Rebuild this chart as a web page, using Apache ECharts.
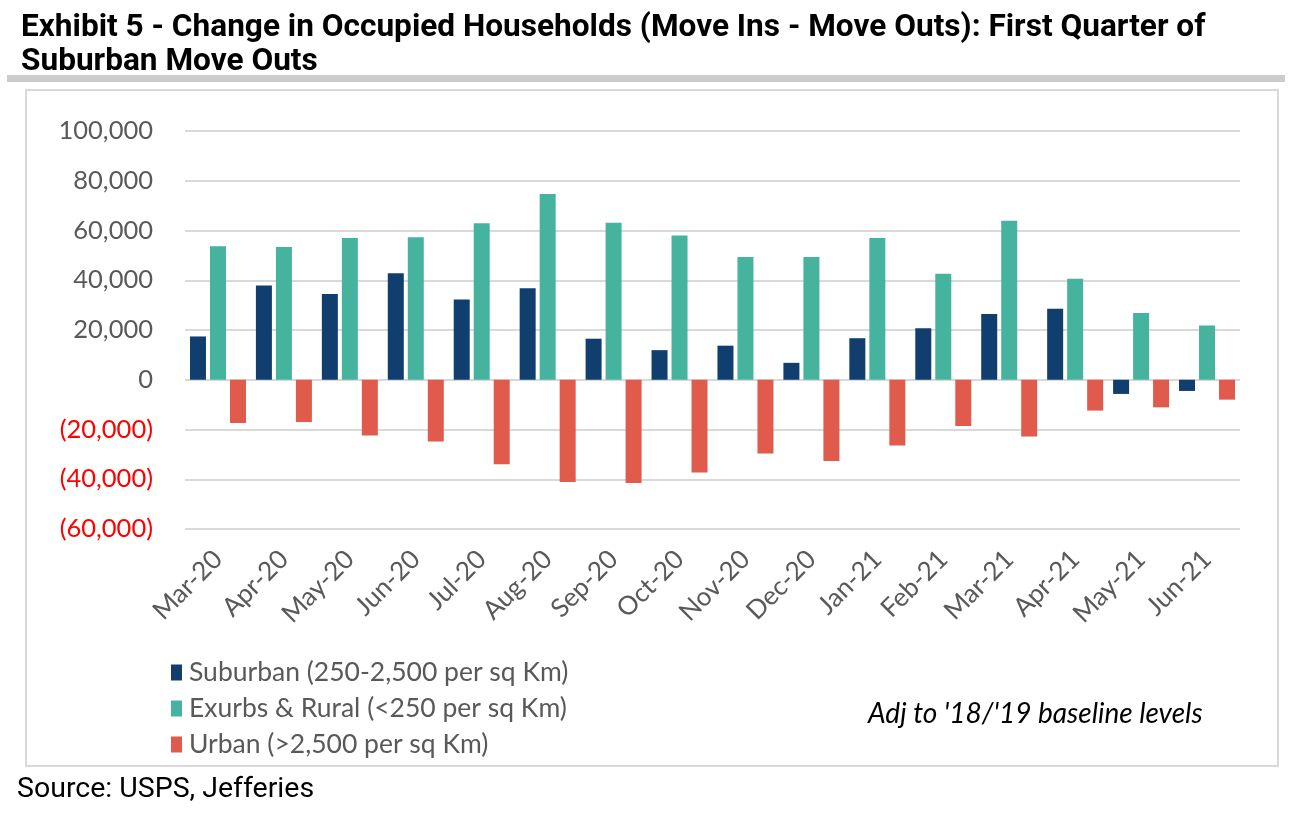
<!DOCTYPE html>
<html>
<head>
<meta charset="utf-8">
<script src="https://cdn.jsdelivr.net/npm/echarts@6/dist/echarts.min.js"></script>
<style>
html,body{margin:0;padding:0;background:#fff;}
#chart{width:1291px;height:815px;}
</style>
</head>
<body>
<div id="chart"></div>
<script>
const categories = ['Mar-20','Apr-20','May-20','Jun-20','Jul-20','Aug-20','Sep-20','Oct-20','Nov-20','Dec-20','Jan-21','Feb-21','Mar-21','Apr-21','May-21','Jun-21'];
const suburban = [17400, 37900, 34500, 42800, 32300, 36800, 16500, 11900, 13700, 6800, 16700, 20700, 26400, 28500, -5700, -4500];
const exurbs   = [53700, 53400, 57000, 57300, 62900, 74700, 63100, 58000, 49300, 49300, 57000, 42600, 63900, 40600, 26800, 21800];
const urban    = [-17400, -17000, -22400, -24800, -34000, -41100, -41500, -37300, -29600, -32700, -26400, -18600, -22800, -12400, -11100, -8000];
const seriesNames = ['Suburban (250-2,500 per sq Km)', 'Exurbs & Rural (<250 per sq Km)', 'Urban (>2,500 per sq Km)'];
const colors = ['#103E6E', '#46B39E', '#E05B4B'];
const yMin = -60000, yMax = 100000, yStep = 20000;

const chart = echarts.init(document.getElementById('chart'), null, {renderer: 'canvas'});
const fmt = v => {
  const s = Math.abs(v).toLocaleString('en-US');
  return v < 0 ? '{neg|(' + s + ')}' : '{pos|' + s + '}';
};
const mk = (name, data, i) => ({
  name, type: 'bar', data, barWidth: 16, barGap: '25%',
  itemStyle: {color: colors[i]}
});
chart.setOption({
  animation: false,
  backgroundColor: '#fff',
  title: {
    text: 'Exhibit 5 - Change in Occupied Households (Move Ins - Move Outs): First Quarter of\nSuburban Move Outs',
    left: 16, top: 6,
    textStyle: {fontFamily: 'Roboto', fontWeight: 'bold', fontSize: 31.6, lineHeight: 34, color: '#000'}
  },
  graphic: [
    {type: 'rect', shape: {x: 7, y: 75, width: 1278, height: 7}, style: {fill: '#CCCCCC'}, silent: true},
    {type: 'rect', shape: {x: 26, y: 90, width: 1252, height: 676}, style: {fill: 'none', stroke: '#D9D9D9', lineWidth: 2}, silent: true, z: -1},
    {type: 'text', left: 868, top: 700, style: {text: "Adj to '18/'19 baseline levels", fontFamily: 'Lato', fontStyle: 'italic', fontSize: 28, fill: '#000'}},
    {type: 'text', left: 17, top: 775, style: {text: 'Source: USPS, Jefferies', fontFamily: 'Roboto', fontSize: 28.5, fill: '#000'}}
  ],
  legend: {
    orient: 'vertical', left: 166, top: 654, itemGap: 9, itemWidth: 11, itemHeight: 16,
    icon: 'rect',
    textStyle: {fontFamily: 'Lato', fontSize: 26.5, color: '#595959', padding: [0,0,0,2]},
    data: seriesNames
  },
  grid: {left: 185, right: 51, top: 131, bottom: 286, containLabel: false},
  xAxis: {
    type: 'category', data: categories,
    axisLine: {show: false, onZero: false}, axisTick: {show: false},
    axisLabel: {rotate: 45, fontFamily: 'Lato', fontSize: 26, color: '#595959', margin: 26, interval: 0}
  },
  yAxis: {
    type: 'value', min: yMin, max: yMax, interval: yStep,
    axisLine: {show: false}, axisTick: {show: false},
    splitLine: {lineStyle: {color: '#D9D9D9', width: 2}},
    axisLabel: {
      formatter: fmt, margin: 32,
      rich: {
        pos: {fontFamily: 'Lato', fontSize: 25.5, color: '#595959'},
        neg: {fontFamily: 'Lato', fontSize: 25.5, color: '#FF0000'}
      }
    }
  },
  series: [mk(seriesNames[0], suburban, 0), mk(seriesNames[1], exurbs, 1), mk(seriesNames[2], urban, 2)]
});
</script>
</body>
</html>
